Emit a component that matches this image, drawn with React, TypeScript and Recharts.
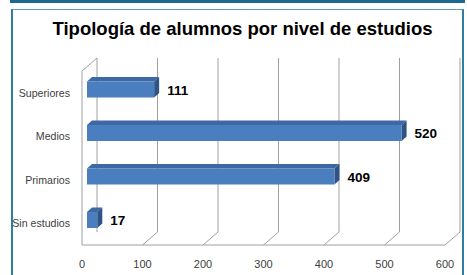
import React from "react";
import {
  BarChart,
  Bar,
  XAxis,
  YAxis,
  CartesianGrid,
  LabelList,
} from "recharts";

const categories = ["Superiores", "Medios", "Primarios", "Sin estudios"];
const alumnos = [111, 520, 409, 17];
const xTicks = [0, 100, 200, 300, 400, 500, 600];

const data = categories.map((nivel, i) => ({ nivel, alumnos: alumnos[i] }));

// 3d look: back wall offset and bar depth
const WALL_DX = 15;
const WALL_DY = 13;
const BAR_SHIFT_X = 5;
const BAR_SHIFT_Y = -3.5;
const BAR_DX = 5;
const BAR_DY = 4.5;
const GRID = "#a0a0a0";
const FONT = "Liberation Sans, Arial, sans-serif";

const Bar3D = (props: any) => {
  const { x, y, width, height } = props;
  const fx = x + BAR_SHIFT_X;
  const fy = y + BAR_SHIFT_Y;
  const w = Math.max(width, 0);
  return (
    <g>
      <polygon
        points={`${fx},${fy} ${fx + BAR_DX},${fy - BAR_DY} ${fx + w + BAR_DX},${fy - BAR_DY} ${fx + w},${fy}`}
        fill="#3c68a3"
      />
      <polygon
        points={`${fx + w},${fy} ${fx + w + BAR_DX},${fy - BAR_DY} ${fx + w + BAR_DX},${fy + height - BAR_DY} ${fx + w},${fy + height}`}
        fill="#2d5485"
      />
      <rect x={fx} y={fy} width={w} height={height} fill="#4a7ebf" />
    </g>
  );
};

const GridLine = (props: any) => {
  const { x1, y1, y2, index } = props;
  const bx = x1 + WALL_DX;
  return (
    <g key={`g-${index}`}>
      <line x1={bx} y1={y1 - WALL_DY} x2={bx} y2={y2 - WALL_DY} stroke={GRID} />
      {index === 0 ? (
        <line x1={x1} y1={y1} x2={bx} y2={y1 - WALL_DY} stroke={GRID} />
      ) : (
        <line x1={x1} y1={y2} x2={bx} y2={y2 - WALL_DY} stroke={GRID} />
      )}
    </g>
  );
};

const CategoryTick = (props: any) => {
  const { x, y, payload } = props;
  return (
    <text
      x={x}
      y={y}
      textAnchor="end"
      dominantBaseline="central"
      fontFamily={FONT}
      fontSize={10.6}
      fill="#404040"
    >
      {payload.value}
    </text>
  );
};

const ValueLabel = (props: any) => {
  const { x, y, width, height, value } = props;
  return (
    <text
      x={x + width + 18}
      y={y + height / 2 - 3}
      dominantBaseline="central"
      fontFamily={FONT}
      fontWeight="bold"
      fontSize={13.5}
      fill="#000"
    >
      {value}
    </text>
  );
};

export default function App() {
  return (
    <div
      style={{
        position: "absolute",
        left: 0,
        top: 0,
        width: 467,
        height: 275,
        background: "#fff",
        overflow: "hidden",
      }}
    >
      <div
        style={{
          position: "absolute",
          left: 10,
          top: 0,
          width: 455,
          height: 3,
          background: "#1d6a91",
        }}
      />
      <div
        style={{
          position: "absolute",
          left: 11,
          top: 9,
          width: 449,
          height: 280,
          borderTop: "1px solid #5b9bbd",
          borderLeft: "2px solid #2f7fa4",
          borderRight: "2px solid #2f7fa4",
        }}
      />
      <div
        style={{
          position: "absolute",
          left: 0,
          top: 19,
          width: 485,
          textAlign: "center",
          fontFamily: FONT,
          fontWeight: "bold",
          fontSize: 18.5,
          lineHeight: "20px",
          color: "#000",
        }}
      >
        Tipología de alumnos por nivel de estudios
      </div>
      <div style={{ position: "absolute", left: 0, top: 0 }}>
        <BarChart
          width={467}
          height={275}
          data={data}
          layout="vertical"
          margin={{ top: 71, right: 22, bottom: 0, left: 2 }}
        >
          <CartesianGrid horizontal={false} vertical={GridLine} />
          <XAxis
            type="number"
            domain={[0, 600]}
            ticks={xTicks}
            interval={0}
            height={30}
            tickLine={false}
            tickSize={0}
            tickMargin={15}
            axisLine={{ stroke: GRID }}
            tick={{ fill: "#404040", fontSize: 11, fontFamily: FONT }}
          />
          <YAxis
            type="category"
            dataKey="nivel"
            width={80}
            tickLine={false}
            tickSize={0}
            tickMargin={12}
            axisLine={{ stroke: GRID }}
            tick={CategoryTick}
          />
          <Bar
            dataKey="alumnos"
            barSize={16}
            shape={Bar3D}
            isAnimationActive={false}
          >
            <LabelList dataKey="alumnos" content={ValueLabel} />
          </Bar>
        </BarChart>
      </div>
    </div>
  );
}
